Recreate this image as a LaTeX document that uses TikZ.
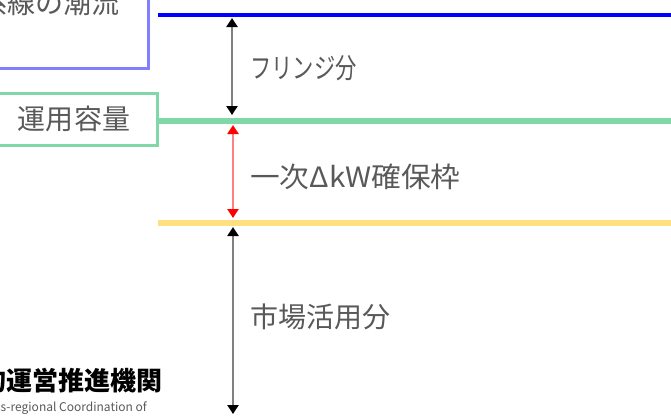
\documentclass[tikz,border=0pt]{standalone}
\usepackage{fontspec}
\setmainfont{Noto Sans CJK JP}
\usetikzlibrary{arrows.meta}
\definecolor{boxblue}{RGB}{128,128,255}
\definecolor{lineblue}{RGB}{0,0,255}
\definecolor{opgreen}{RGB}{128,216,168}
\definecolor{lineyellow}{RGB}{255,224,128}
\definecolor{redline}{RGB}{255,128,128}
\definecolor{arrowgray}{RGB}{128,128,128}
\definecolor{labelgray}{RGB}{89,89,89}
\tikzset{
  lbl/.style={text=labelgray, font=\fontsize{28bp}{34bp}\selectfont, inner sep=0pt, anchor=west},
  grayspan/.style={draw=arrowgray, line width=2.8bp, {Triangle[width=11bp,length=9bp,color=black]}-{Triangle[width=11bp,length=9bp,color=black]}},
  redspan/.style={draw=redline, line width=2.5bp, {Triangle[width=11bp,length=9bp,color=red]}-{Triangle[width=11bp,length=9bp,color=red]}},
}
\begin{document}
\begin{tikzpicture}[x=1bp,y=-1bp]
\clip (0,0) rectangle (671,415);
\fill[white] (0,0) rectangle (671,415);
% top blue box
\node[draw=boxblue, line width=3bp, minimum width=168bp, minimum height=88bp, inner sep=0pt] (topbox) at (64,24) {};
\node[text=labelgray, font=\fontsize{28bp}{34bp}\selectfont, inner sep=0pt, anchor=east] (toptext) at (120,3) {連系線の潮流};
% operating capacity box
\node[draw=opgreen, line width=3bp, minimum width=166bp, minimum height=52bp, inner sep=0pt, text=labelgray, font=\fontsize{28bp}{34bp}\selectfont] (opbox) at (74,119) {運用容量};
% level lines
\coordinate (b0) at (158,15); \coordinate (b1) at (680,15);
\coordinate (g0) at (158,121); \coordinate (g1) at (680,121);
\coordinate (y0) at (158,223); \coordinate (y1) at (680,223);
\draw[lineblue, line width=4bp] (b0) -- (b1);
\draw[opgreen, line width=6bp] (g0) -- (g1);
\draw[lineyellow, line width=6bp] (y0) -- (y1);
% spans
\coordinate (a1) at (232,18); \coordinate (a2) at (232,115);
\coordinate (r1) at (233,125); \coordinate (r2) at (233,218);
\coordinate (c1) at (233,227); \coordinate (c2) at (233,414);
\draw[grayspan] (a1) -- (a2);
\draw[redspan] (r1) -- (r2);
\draw[grayspan] (c1) -- (c2);
% labels
\node[lbl] (fringe) at (250,68) {\scalebox{0.76}[1]{フリンジ分}};
\node[lbl] (primary) at (250,177) {\scalebox{1.06}[1]{一次ΔkW確保枠}};
\node[lbl] (market) at (250,317) {市場活用分};
% logo
\node[inner sep=0pt, anchor=east, font=\fontsize{26bp}{30bp}\selectfont\bfseries, text=black] (logo) at (163,381) {電力広域的運営推進機関};
\node[inner sep=0pt, anchor=east, font=\fontsize{12bp}{14bp}\selectfont, text=labelgray] (logoen) at (147,408) {Organization for Cross-regional Coordination of};
\end{tikzpicture}
\end{document}
